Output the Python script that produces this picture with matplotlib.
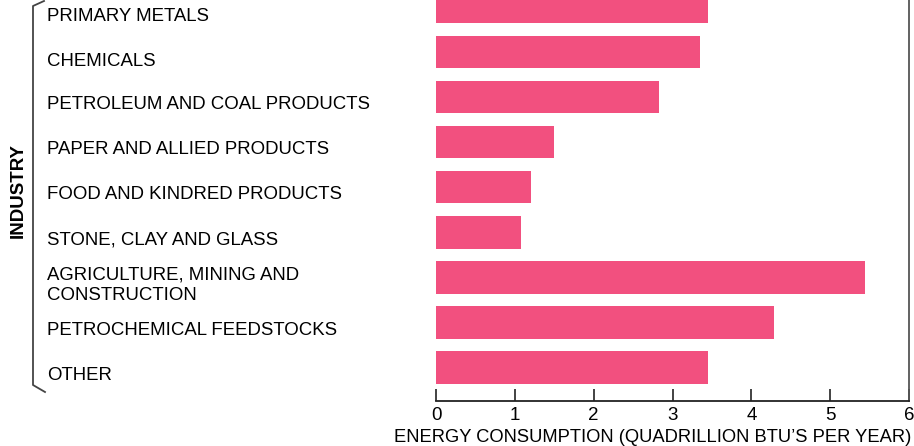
import matplotlib
matplotlib.use("Agg")
import matplotlib.pyplot as plt
from matplotlib.lines import Line2D
import matplotlib.transforms as mtransforms

categories = [
    "PRIMARY METALS",
    "CHEMICALS",
    "PETROLEUM AND COAL PRODUCTS",
    "PAPER AND ALLIED PRODUCTS",
    "FOOD AND KINDRED PRODUCTS",
    "STONE, CLAY AND GLASS",
    "AGRICULTURE, MINING AND\nCONSTRUCTION",
    "PETROCHEMICAL FEEDSTOCKS",
    "OTHER",
]
values = [3.45, 3.35, 2.83, 1.50, 1.21, 1.08, 5.44, 4.29, 3.45]
xticks = [0, 1, 2, 3, 4, 5, 6]
xlabel = "ENERGY CONSUMPTION (QUADRILLION BTU\u2019S PER YEAR)"
ylabel = "INDUSTRY"

plt.rcParams['font.family'] = ['Liberation Sans', 'DejaVu Sans']
W, H = 914, 446
fig = plt.figure(figsize=(W / 100, H / 100), dpi=100)
ax = fig.add_axes([436 / W, 1 - 401 / H, (909 - 436) / W, 401 / H])

color = "#F2507F"
pos = list(range(len(categories)))
ax.barh(pos, values, height=0.72, color=color, edgecolor='none')
ax.set_xlim(0, 6)
ax.set_ylim(8.74, -0.15)

for s in ["top", "left"]:
    ax.spines[s].set_visible(False)
ax.spines["bottom"].set_linewidth(1.3)
ax.spines["right"].set_linewidth(1.3)
ax.spines["bottom"].set_color("#222222")
ax.spines["right"].set_color("#555555")

ax.set_yticks([])
ax.set_xticks(xticks)
ax.set_xticklabels([str(t) for t in xticks], fontsize=13.5)
ax.tick_params(axis='x', direction='in', length=9, width=1.2, pad=4,
               colors="#222222", labelcolor='black')

trans = mtransforms.blended_transform_factory(fig.transFigure, ax.transData)
for i, lab in enumerate(categories):
    offset = 0.22 if i < 2 else 0.17
    ax.text(47 / W, i + offset, lab, transform=trans, ha='left', va='center',
            fontsize=13.4, linespacing=1.3, clip_on=False)

fig.text(653 / W, 1 - 437 / H, xlabel, ha='center', va='center', fontsize=13.2)
fig.text(18 / W, 1 - 191 / H, ylabel, ha='center', va='center', rotation=90,
         fontsize=13.5, fontweight='bold')

# bracket
bx = [44 / W, 33 / W, 33 / W, 45 / W]
by = [1 - 1 / H, 1 - 6 / H, 1 - 385 / H, 1 - 392 / H]
fig.add_artist(Line2D(bx, by, transform=fig.transFigure, color="#444444", lw=1.3))

fig.savefig("out.png", dpi=100)
